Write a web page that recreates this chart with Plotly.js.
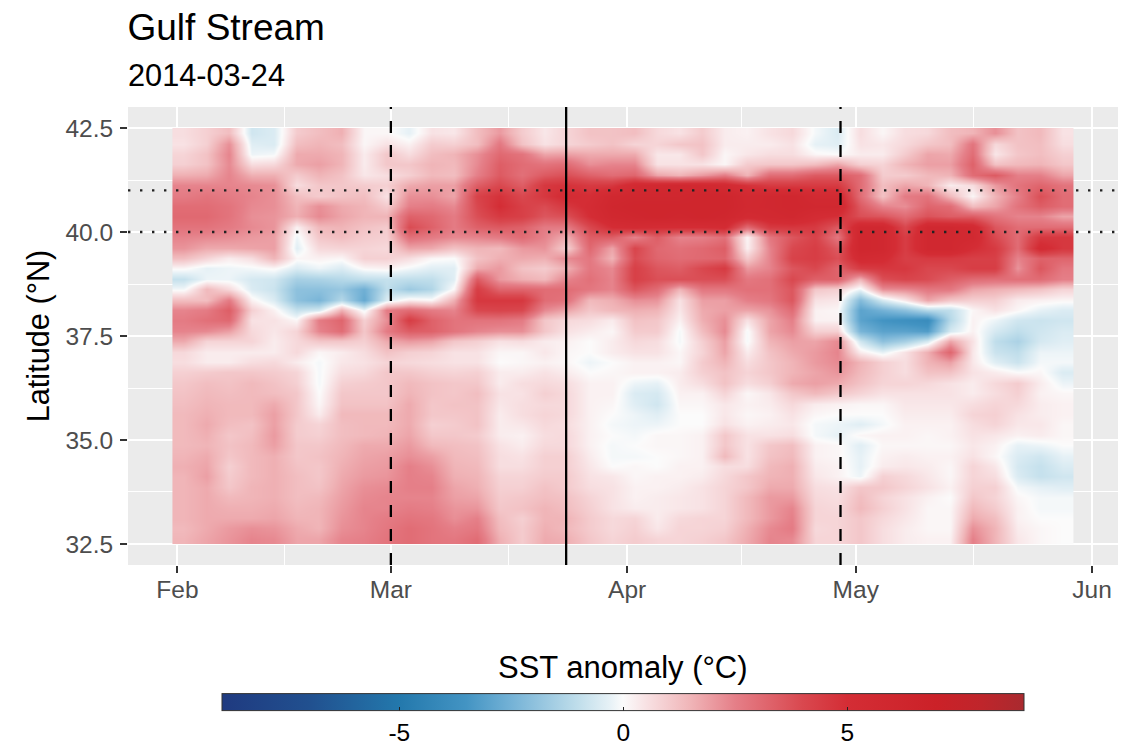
<!DOCTYPE html>
<html><head><meta charset="utf-8">
<script src="https://cdn.plot.ly/plotly-3.0.1.min.js"></script>
<style>html,body{margin:0;padding:0;background:#fff;overflow:hidden;height:749px}#c{width:1129px;height:775px}</style>
</head><body><div id="c"></div><script>
const titleText='Gulf Stream', subtitleText='2014-03-24', legendTitle='SST anomaly (°C)';
const lats=[42.375,42.125,41.875,41.625,41.375,41.125,40.875,40.625,40.375,40.125,39.875,39.625,39.375,39.125,38.875,38.625,38.375,38.125,37.875,37.625,37.375,37.125,36.875,36.625,36.375,36.125,35.875,35.625,35.375,35.125,34.875,34.625,34.375,34.125,33.875,33.625,33.375,33.125,32.875,32.625];
const firstColumn='2014-02-01 19:41:00', columnStepMs=255485000;
const rows=[
[.6,.9,1.3,-.7,-.5,1,1.3,1.6,.1,.1,-.3,.5,.4,1.3,2,1,.4,.8,1.2,1.2,1.3,.7,.5,1,.3,.2,.5,.7,-.1,-.5,.6,.1,.6,.7,1.3,1.5,2.2,1.2,1.4,.5],
[.5,.9,2.2,-.4,-.5,1.3,1.5,1.3,.1,.5,.2,1,.9,1.3,2.7,1.2,.5,.8,1,1.2,.8,.8,1.1,1.2,.3,.3,.3,.5,-.3,-.4,.5,.4,.7,1.1,1.3,2.8,.7,1.2,1.3,.6],
[.8,1.2,2.4,-.2,-.1,1.7,1.7,1.5,.3,1.1,.6,1.3,1.5,2.2,3.1,2.8,1.8,1.9,1.7,1.7,1.7,.4,.4,1.1,.1,.4,.6,.6,.1,0,.3,.3,1,1.8,1.7,3,.4,1.1,1.3,.9],
[.9,1.2,2.3,.6,.7,1.7,1.9,1.5,.3,1.1,1.1,1.5,1.4,2.3,3.4,3,2.8,3,2.2,2.4,2.4,.5,.5,.5,.1,1,1.1,1.1,1.3,1.8,.9,.8,1.5,1.9,1.9,3.3,1.2,1.4,1.5,1.1],
[1.6,1.7,2.4,1.6,1.6,1,1.5,1.2,.4,.6,.9,1.4,1.3,2.5,3.5,2.9,3.5,3.8,3.3,3,3.2,1.8,1.5,2,2.6,1.5,3,3,3.5,3.5,3,1,1,1.4,1.5,3,3.5,2.5,2.5,1.8],
[2.4,2.4,2.4,2.3,2.2,.6,1.1,1.1,1,.9,1.7,1.9,1.9,3.4,4,3.4,4.6,4.8,4.5,4.6,5.5,5.7,5.8,5.7,5.5,4.8,4.5,4.5,4.5,4.5,3,1.3,1.8,1.5,.3,.6,2,2.8,3.2,2.8],
[2.6,2.8,2.6,2.4,2.2,1.3,1,1.2,1.3,.5,2.2,2.2,1.8,4.2,4.8,4,4.6,5.2,5,5.8,6,6,6,6.2,6.2,5.6,5.8,6,5.5,5.5,3,1.2,2.6,2.8,1.4,.1,1.5,2.5,3.8,3],
[3,3,2.8,2.3,2.2,1.5,2.2,1.7,1.5,1,2.5,2.6,2.3,4,5,4.3,3.9,4.6,5.2,6,6.2,6.2,6.2,6.2,6.2,5.7,5.8,6,5.8,5.8,3.5,2.4,2.2,3.2,3,1.3,1.8,2.8,3.4,3],
[3.1,3.1,2.8,2.2,2.1,1.6,2.3,1.8,1.5,1.5,3.3,3.1,2.6,3.8,4.5,4.3,3.6,3.8,5,5.8,6,6.2,6,6.2,6,5.4,5.6,5.8,5.2,4.9,3.8,3.6,3,3.7,3.4,3.4,2.8,2.4,2.4,1.8],
[2.8,2.8,2.6,2.3,2.1,.2,1.4,1.5,1.2,1,3.9,3.3,2.6,3.3,3.5,3.3,2.6,2.6,4,5,5.2,5,5,5,5.2,3,4.5,4.6,4.5,3.5,5.8,5.8,4,5.8,5.8,5.5,3.6,3,3,3],
[2.4,2.3,2.2,2,1.9,-.2,1.1,1.3,1,.9,2.9,2.6,2.3,2.4,2.6,3,2.4,1.6,3.4,3.4,2.4,3.4,2.4,2.5,2.9,.1,2.7,3.6,4.2,2.7,6,5.8,4.4,5.8,5.8,5.6,4,3,4.6,4.6],
[2.1,1.7,1.7,1.8,1.9,-.4,.7,.8,.8,.7,1.8,1.7,1.2,1.5,1.4,2,2.1,.9,3.1,1.8,4.1,3.1,2.9,3.1,3.4,.2,2.4,4,4.4,3.5,6,5.8,4.4,5.8,5.8,5,4.5,3,5.3,4.6],
[1.3,.8,.3,.6,1.5,.1,.2,.1,.9,.9,.6,.1,0,1.2,1.6,1.7,1.6,2.3,2.7,1.5,3.9,3.2,3,3.1,3.2,1,2.4,4.2,4.4,3.8,5.4,5.2,4.3,4.5,4.5,4.3,4.3,2.4,3.3,3.2],
[.1,-.3,-.2,-.1,.1,-.5,-.2,-.5,.1,.2,-.1,-.4,-.4,1.7,2,1.2,1,1.6,2.7,2.3,4.3,3.6,3.4,4,4.5,2,2.4,3.6,4,3.2,4.4,4.6,4.6,4,4,4.4,4.4,2.1,3.6,2.7],
[-.9,-.2,-.2,-.6,-.7,-1.5,-1.4,-1.2,-1,-.9,-1,-1,-.4,3.5,2,1.6,1.4,2.4,2.9,2.4,4.3,3.8,3.8,3.8,3.8,2.7,2.9,4,3.3,3.3,1.5,3.8,4.1,3.9,3.4,3,2.9,2.9,3,2.5],
[-.1,1.4,.7,-.5,-.8,-2,-2,-1.8,-2.6,-1,-1.7,-1.3,.1,4.4,3.2,3.2,3,3,2.7,2.4,3.6,3,1.5,2.7,2.7,2.9,2.9,3.6,1.1,.9,-.2,2.2,2.3,2.7,2.7,1.8,1.6,1.4,1.2,.8],
[1.3,1.3,2.6,.2,-.5,-2,-2.4,-1.2,-2.8,-.5,.3,.1,1.6,4.6,4.6,4.6,3,2.8,1.4,1.6,2.2,2.1,.5,1.9,1.9,2.5,2.7,3.6,.5,.4,-2.2,-.6,.4,1.8,1.1,.9,.9,.3,.2,.1],
[2.4,2.6,3.4,.9,.2,-.9,-.6,1.6,-.2,2.6,3,2.6,2.4,4,4.1,4,2.3,1.8,1.1,1.4,1.6,1.5,.4,1.7,1.9,1.8,2.1,3,.2,.1,-3,-2.5,-2,-1.2,-1,.1,.5,.1,-.3,-.5],
[2.6,2.9,3.1,.5,.5,.1,2.6,3.2,.9,2.2,4.4,3.3,2.8,2.8,2.8,2.6,1.1,.7,.6,.3,1.2,1.1,.2,1.6,2.2,.5,1.8,2.5,.2,.2,-3,-3.5,-3.7,-3.9,-1.2,.2,-.2,-.7,-.8,-.7],
[2.4,2.3,1.9,.7,.4,.8,2.4,3,1.1,2.6,3.4,3.3,2.8,2.4,2.2,2.2,1.1,.5,.3,.1,1,1,-.1,1.3,2.3,-.1,1.8,2.3,.9,.9,-2.4,-3,-3,-3.2,-.6,.2,-.6,-1,-.7,-.5],
[1.7,.8,.8,.8,.3,.7,1.1,1.1,.9,1.7,2,1.8,1.1,.9,.5,.6,.3,.2,0,.3,.7,.6,-.1,.9,1.9,-.1,1.5,1.9,1.8,2.3,-.7,-2,-1.5,-.6,1.8,.5,-1,-1.4,-.6,-.4],
[.7,.3,.3,.3,.3,.7,.1,.3,.6,1.2,.9,.8,.5,.5,.1,.1,.4,.1,0,.3,.5,.5,.1,.8,1.8,.3,1.2,1.7,2,2.4,.3,-.3,.5,1.6,3.2,.4,-.8,-1,-.2,-.2],
[.6,.3,.3,.6,.7,.3,-.1,.4,.5,.8,.7,.6,.5,.5,0,.1,.2,.1,-.2,0,.2,.2,.1,1,1.5,.6,1.1,1.5,2,2.3,1.5,.9,.6,1.5,1.9,.4,-.4,-.8,-.1,-.1],
[.9,1,1.1,1.1,1,.8,-.1,.6,.7,1.1,1.1,.9,.8,.9,.3,.3,.5,.3,0,.1,.2,.2,.3,.9,1.2,.8,1.1,1.5,1.8,2.1,1.4,.9,.6,1.2,1.2,.5,.3,0,.1,-.5],
[1.1,1.3,1.2,1.4,1.2,.9,-.1,.9,1,1.1,1.4,1.2,1.1,1.1,.3,.6,.7,.6,.2,.2,-.2,-.3,.3,.6,1.2,.6,.9,1.7,1.9,1.7,1.2,.8,.8,.7,.5,.3,.7,1,.3,-.2],
[1.2,1.4,1.3,1.4,1.3,1.1,0,1.1,1.1,1.1,1.5,1.2,1.1,1.3,.5,.5,.9,.7,.2,.2,-.5,-.6,.2,.2,.8,.1,.4,1.1,1.4,1.1,.8,.5,.5,.5,.5,.3,.6,.9,.2,.1],
[1.3,1.5,1.4,1.4,1.7,1.1,.1,1.2,1.2,1.2,1.7,1.1,1.2,1.2,.4,.6,.7,.7,.2,.1,-.4,-.7,.1,.1,.4,.2,.3,.7,.3,.2,.1,.1,.4,.4,.4,.6,.8,.7,.3,.2],
[1.4,1.6,1.4,1.4,1.9,1.1,.3,1.4,1.4,1.4,1.7,1.1,1.1,1.2,.3,.6,.8,.7,.2,0,-.2,-.4,0,0,.4,.1,.2,.5,.1,0,0,0,.3,.3,.3,.8,.9,.5,.3,.2],
[1.4,1.7,1.3,1.2,1.9,1,.8,1.3,1.4,1.4,1.7,.9,1,1.2,.3,.4,.7,.6,.2,-.1,-.2,-.2,0,0,.5,.2,.3,.4,-.1,-.2,-.4,-.1,.2,.2,.2,.6,.8,.4,.4,.1],
[1.4,1.6,1.1,1.3,2,1,.9,1.3,1.4,1.5,1.8,1.1,1.1,1,.3,.2,.6,.7,.2,0,-.1,.1,.1,.2,1.1,.5,.5,.6,-.1,-.3,.1,.2,.2,.1,.2,.5,.4,.2,.3,.1],
[1.4,1.5,1.2,1.4,1.9,1.1,1.1,1.4,1.7,1.7,2,1.4,1.3,1.2,.5,.3,.7,.7,.2,-.1,0,.1,.1,.2,1.1,.5,1.1,1.3,.2,.1,-.4,.1,.1,.1,.1,.4,.2,-.3,-.2,0],
[1.5,1.7,1.1,1.4,1.6,1.1,1.2,1.5,1.8,1.9,2.2,1.9,1.4,1.3,.6,.5,.9,.9,.3,-.1,-.1,0,.1,.2,1.4,.5,1.2,1.4,.2,.1,-.3,.2,.3,.2,.2,.5,.1,-.5,-.7,-.3],
[1.6,1.8,.9,1.4,1.6,1.2,1.1,1.6,1.9,2,2.5,2.2,1.5,1.4,.6,.6,.9,.9,.4,0,.1,0,.2,.2,.6,.6,1.4,1.6,.3,.2,-.3,.3,.4,.3,.1,.8,.4,-.6,-.9,-.5],
[1.5,1.9,1,1.4,1.6,1.3,1.1,1.7,2,2.1,2.5,2.4,1.6,1.5,.8,.8,1,1,.5,.4,.1,.2,.2,.3,.7,1.1,1.5,1.6,.4,.2,-.2,.9,.7,.4,.1,.8,.6,-.5,-.9,-.7],
[1.5,1.7,1.1,1.5,1.6,1.3,1.2,1.8,2.2,2.3,2.5,2.5,1.8,1.6,.9,.9,1.2,1,.6,.5,.2,.2,.3,.5,.8,1.1,1.7,1.7,.6,.5,1.1,1.1,.8,.5,.2,.9,.9,-.1,-.3,-.4],
[1.5,1.7,1.4,1.5,1.6,1.3,1.4,1.9,2.3,2.4,2.4,2.4,1.9,1.8,1,1.1,1.3,1.2,.8,.5,.2,.3,.4,.5,.8,1.4,2,2,.7,.6,1.3,.8,.5,.2,0,1.1,.8,.1,-.1,-.1],
[1.5,1.7,1.6,1.6,1.7,1.4,1.5,2,2.4,2.4,2.6,2.5,2.1,2.1,1.1,1.2,1.5,1.3,.9,.5,.3,.3,.4,.5,.8,1.4,2,2.4,.8,.7,1.4,.9,.5,.1,.1,1.4,1,.2,-.1,-.1],
[1.5,1.7,1.7,1.7,1.8,1.5,1.5,2.1,2.4,2.6,2.8,2.7,2.2,2.5,1.3,.9,1.5,1.5,1,.7,.8,.3,.7,.8,.8,1.4,2,2.5,.8,.8,1.1,.7,.4,.1,.1,1.7,1.3,.2,0,0],
[1.4,1.7,2,2.2,2.1,1.7,1.5,2.2,2.4,2.7,3,2.8,2.5,2.7,1.4,1,1.6,1.4,1,.7,.9,.4,.8,.8,.9,1.6,2.3,2.6,.7,.8,1.1,.6,.3,.1,.1,2.2,1.5,.3,.1,0],
[1.5,1.8,2.1,2.4,2.3,1.8,1.8,2.4,2.5,2.8,3,2.8,2.7,3,1.6,1,1.7,1.6,1.1,.8,1,.8,.8,.9,1.1,1.7,2.4,2.3,.8,.8,1.1,.6,.3,.2,.2,2.5,1.5,.4,.1,0]
];
const scaleValues=[-8.95,-7,-5,-3.5,-2.5,-1,-.3,0,.5,1.5,2.5,4,5,7,8,8.95];
const scaleColors=['#1f3a80','#21508f','#2378ac','#4394c3','#74b2d6','#c0deeb','#e6f1f6','#fbfbfb','#f8e2e4','#f0b5b8','#e57f88','#d9484f','#d42d35','#cb2128','#bf252b','#a92a2f'];
const cbTicks=[-5,0,5], cbLabels=['-5','0','5'];
const xTickDates=['2014-02-01','2014-03-01','2014-04-01','2014-05-01','2014-06-01'];
const xTickLabels=['Feb','Mar','Apr','May','Jun'];
const xMinorDates=['2014-02-15','2014-03-16 12:00','2014-04-16','2014-05-16 12:00'];
const yTicks=[32.5,35,37.5,40,42.5], yTickLabels=['32.5','35.0','37.5','40.0','42.5'];
const yMinor=[33.75,36.25,38.75,41.25];
const dashedDates=['2014-03-01','2014-04-29'], solidDate='2014-03-24', dottedLats=[40,41];
const F='"Liberation Sans", Arial, sans-serif';
const colorscale=scaleValues.map((v,i)=>[(v+8.95)/17.9,scaleColors[i]]);
const trace={type:'heatmap',z:rows.slice().reverse(),y:lats.slice().reverse(),x0:firstColumn,dx:columnStepMs,
 zmin:-8.95,zmax:8.95,colorscale:colorscale,zsmooth:'best',hoverinfo:'skip',
 colorbar:{orientation:'h',x:0.5003,xanchor:'center',y:-0.4072,yanchor:'bottom',xpad:0,ypad:0,
  lenmode:'pixels',len:802,thicknessmode:'pixels',thickness:17,outlinecolor:'#333',outlinewidth:1,borderwidth:0,
  tickmode:'array',tickvals:cbTicks,ticktext:cbLabels,ticks:'inside',ticklen:4,tickwidth:1,tickcolor:'#222',
  tickfont:{family:F,size:24.5,color:'#000'}}};
const shapes=[];
dashedDates.forEach(d=>shapes.push({type:'line',xref:'x',yref:'paper',x0:d,x1:d,y0:0,y1:1,line:{color:'#000',width:2.3,dash:'12px,12px'}}));
shapes.push({type:'line',xref:'x',yref:'paper',x0:solidDate,x1:solidDate,y0:0,y1:1,line:{color:'#000',width:2.3}});
dottedLats.forEach(l=>shapes.push({type:'line',xref:'paper',yref:'y',x0:0,x1:1,y0:l,y1:l,line:{color:'#222',width:2.4,dash:'2.4px,9.6px'}}));
const layout={width:1129,height:775,margin:{l:127.5,r:11,t:107,b:210},paper_bgcolor:'#fff',plot_bgcolor:'#ebebeb',
 font:{family:F},
 title:{text:titleText,x:127.5/1129,xanchor:'left',xref:'container',yref:'container',y:1-14/775,yanchor:'top',font:{family:F,size:37,color:'#000'}},
 annotations:[
  {text:subtitleText,xref:'paper',yref:'paper',x:0,xanchor:'left',y:(565-75)/458,yanchor:'middle',showarrow:false,xshift:-1.5,font:{family:F,size:30.7,color:'#000'},borderpad:0},
  {text:legendTitle,xref:'paper',yref:'paper',x:0.5003,xanchor:'center',y:(565-667)/458,yanchor:'middle',showarrow:false,font:{family:F,size:31,color:'#000'},borderpad:0}],
 xaxis:{type:'date',range:['2014-01-25 12:14','2014-06-04 09:50'],tickmode:'array',tickvals:xTickDates,ticktext:xTickLabels,
  ticks:'outside',ticklen:7,tickwidth:2,tickcolor:'#333',tickfont:{family:F,size:24.5,color:'#4d4d4d'},ticklabelstandoff:-4,
  showgrid:true,gridcolor:'#fff',gridwidth:2.2,zeroline:false,showline:false,
  minor:{tickmode:'array',tickvals:xMinorDates,showgrid:true,gridcolor:'#fff',gridwidth:1.1,ticks:''}},
 yaxis:{range:[31.995,43.005],tickmode:'array',tickvals:yTicks,ticktext:yTickLabels,
  ticks:'outside',ticklen:7,tickwidth:2,tickcolor:'#333',tickfont:{family:F,size:24.5,color:'#4d4d4d'},ticklabelstandoff:2,
  showgrid:true,gridcolor:'#fff',gridwidth:2.2,zeroline:false,showline:false,
  minor:{tickmode:'array',tickvals:yMinor,showgrid:true,gridcolor:'#fff',gridwidth:1.1,ticks:''},
  title:{text:'Latitude (°N)',standoff:6,font:{family:F,size:30.7,color:'#000'}}},
 shapes:shapes};
Plotly.newPlot('c',[trace],layout,{displayModeBar:false,responsive:false});
</script></body></html>
